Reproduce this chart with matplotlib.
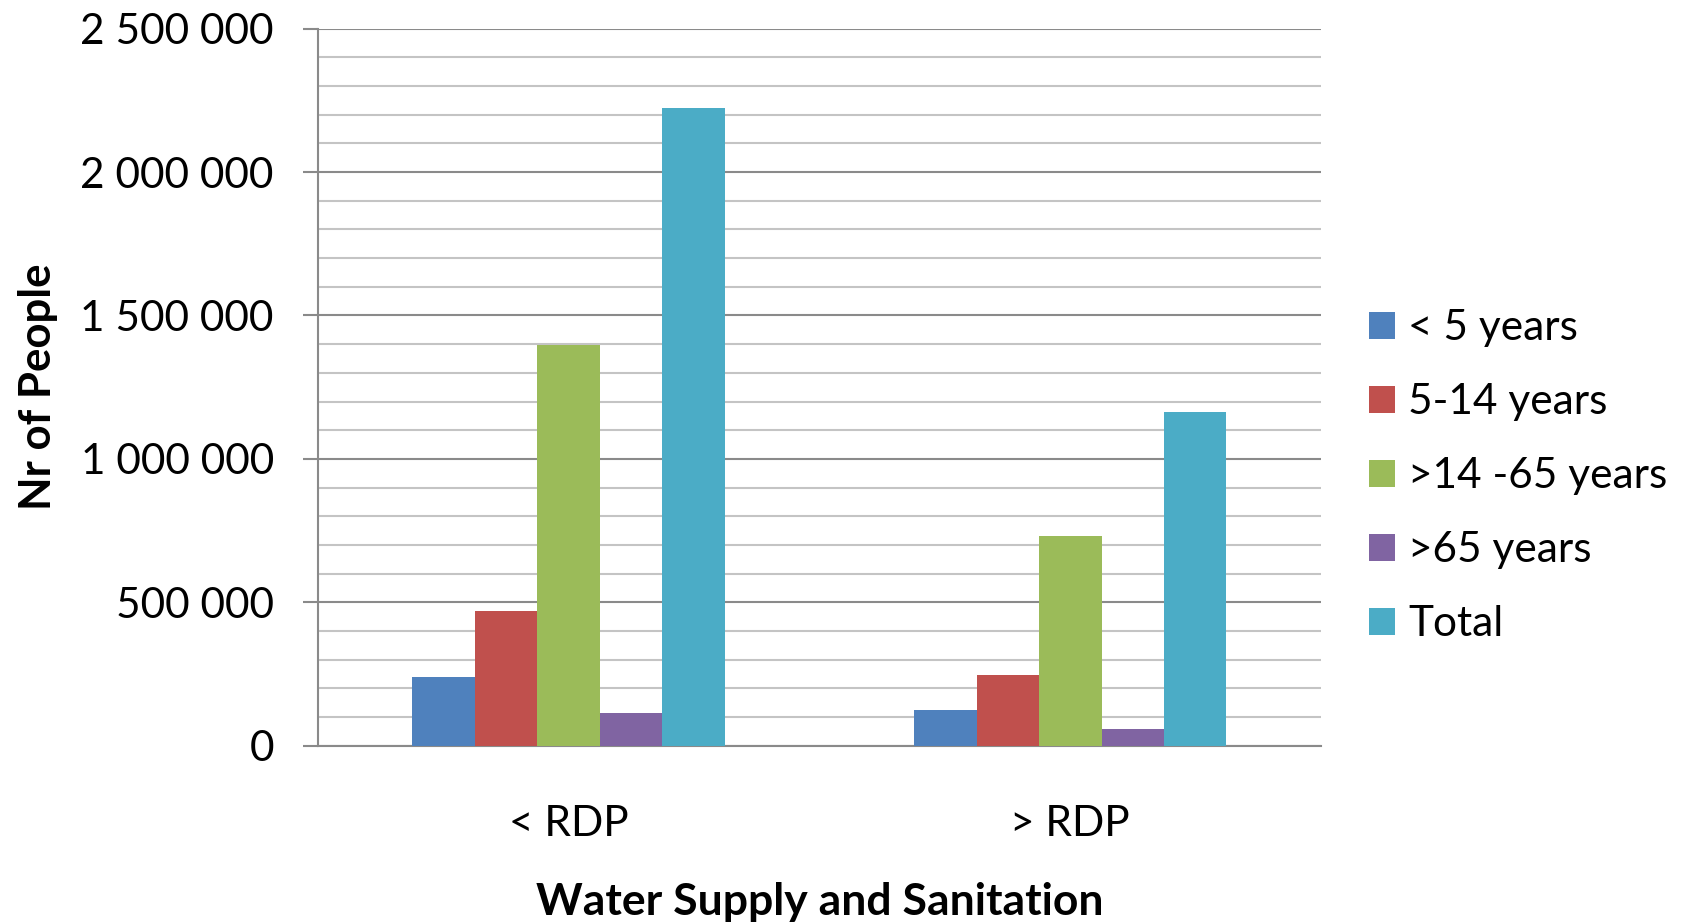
import numpy as np
from matplotlib import pyplot as plt
from matplotlib.ticker import FuncFormatter, MultipleLocator

plt.rcParams['font.family'] = ['Lato', 'DejaVu Sans']

categories = ['< RDP', '> RDP']
series_names = ['< 5 years', '5-14 years', '>14 -65 years', '>65 years', 'Total']
under_5 = [238000, 125000]
age_5_14 = [469000, 245000]
age_14_65 = [1397000, 731000]
over_65 = [114000, 58000]
total = [2223000, 1163000]
colors = ['#4F81BD', '#C0504D', '#9BBB59', '#8064A2', '#4BACC6']

fig = plt.figure(figsize=(16.85, 9.23), dpi=100)
ax = fig.add_axes([0.1887, 0.1921, 0.5953, 0.7768])

values = [under_5, age_5_14, age_14_65, over_65, total]
x = np.arange(len(categories))
w = 0.1246
for i, (vals, name, c) in enumerate(zip(values, series_names, colors)):
    ax.bar(x + (i - 2) * w, vals, width=w, color=c, label=name, zorder=3)

ax.set_xlim(-0.5, 1.5)
ax.set_ylim(0, 2500000)
ax.yaxis.set_major_locator(MultipleLocator(500000))
ax.yaxis.set_minor_locator(MultipleLocator(100000))
ax.yaxis.set_major_formatter(FuncFormatter(lambda v, p: '{:,.0f}'.format(v).replace(',', ' ')))
ax.grid(axis='y', which='major', color='#8a8a8a', linewidth=1.5, zorder=0)
ax.grid(axis='y', which='minor', color='#c4c4c4', linewidth=1.5, zorder=0)
ax.set_axisbelow(True)

for s in ['top', 'right']:
    ax.spines[s].set_visible(False)
for s in ['left', 'bottom']:
    ax.spines[s].set_color('#8a8a8a')
    ax.spines[s].set_linewidth(1.5)

ax.set_xticks(x)
ax.set_xticklabels(categories)
ax.tick_params(axis='y', which='major', length=10.8, width=1.5, color='#8a8a8a',
               pad=21, labelsize=30.5)
ax.tick_params(axis='y', which='minor', length=0)
ax.tick_params(axis='x', length=0, pad=43, labelsize=30.5)

ax.set_ylabel('Nr of People', fontsize=31.5, fontweight='bold', labelpad=16)
ax.set_xlabel('Water Supply and Sanitation', fontsize=32, fontweight='bold', labelpad=28)

ax.legend(loc='center left', bbox_to_anchor=(0.8125, 0.484), bbox_transform=fig.transFigure,
          frameon=False, fontsize=30.5, handlelength=0.62, handleheight=0.62,
          handletextpad=0.3, labelspacing=0.85, borderpad=0, borderaxespad=0)

fig.savefig('out.png', dpi=100)
